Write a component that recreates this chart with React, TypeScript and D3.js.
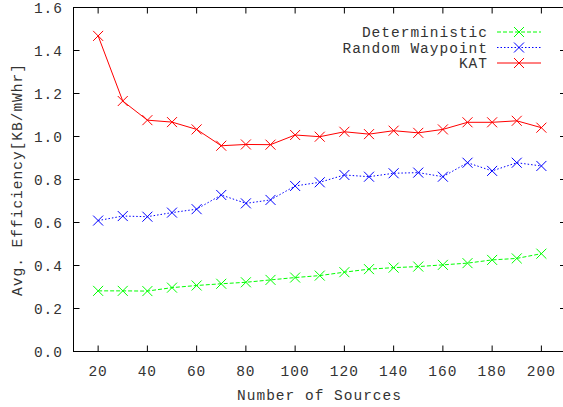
import React from 'react';
import * as d3 from 'd3';

// number of sources (x)
const sources = [20, 30, 40, 50, 60, 70, 80, 90, 100, 110, 120, 130, 140, 150, 160, 170, 180, 190, 200];

const deterministic = [0.282, 0.282, 0.281, 0.297, 0.307, 0.315, 0.322, 0.333, 0.344, 0.353, 0.369, 0.383, 0.39, 0.395, 0.403, 0.411, 0.426, 0.433, 0.455];
const randomWaypoint = [0.609, 0.63, 0.627, 0.646, 0.662, 0.728, 0.689, 0.705, 0.77, 0.787, 0.821, 0.813, 0.829, 0.832, 0.813, 0.878, 0.84, 0.878, 0.863];
const kat = [1.468, 1.165, 1.076, 1.067, 1.033, 0.957, 0.963, 0.962, 1.007, 0.999, 1.022, 1.011, 1.027, 1.017, 1.033, 1.066, 1.066, 1.073, 1.041];

const xTicks = [20, 40, 60, 80, 100, 120, 140, 160, 180, 200];
const yTicks = [0, 0.2, 0.4, 0.6, 0.8, 1.0, 1.2, 1.4, 1.6];

const seriesList = [
  { name: 'Deterministic', values: deterministic, color: '#00ff00', dash: '4,2' },
  { name: 'Random Waypoint', values: randomWaypoint, color: '#0000ff', dash: '1.5,2' },
  { name: 'KAT', values: kat, color: '#ff0000', dash: '' },
];

const W = 563;
const H = 407;
const margin = { top: 7.5, right: -3, bottom: 55.5, left: 73.5 };
const font = '"Liberation Mono", "DejaVu Sans Mono", monospace';
const fs = 14.5;
const ls = 1;

const App = () => {
  const x = d3.scaleLinear().domain([10, 210]).range([margin.left, W - margin.right]);
  const y = d3.scaleLinear().domain([0, 1.6]).range([H - margin.bottom, margin.top]);

  const line = d3.line<number>()
    .x((_, i) => x(sources[i]))
    .y(d => y(d));

  const cross = (cx: number, cy: number, color: string, key: string) => (
    <path key={key} d={`M${cx - 5},${cy - 5}L${cx + 5},${cy + 5}M${cx - 5},${cy + 5}L${cx + 5},${cy - 5}`}
      stroke={color} strokeWidth={1} fill="none" />
  );

  const tx = '#333';
  const legendX = 488;
  const legendY = [32, 47.5, 63];
  const txt = { fontFamily: font, fontSize: fs, fill: tx, letterSpacing: ls };

  return (
    <div style={{ position: 'fixed', left: 0, top: 0 }}>
      <svg width={W} height={H} style={{ display: 'block', background: '#fff' }}>
        {/* frame */}
        <rect x={x(10)} y={y(1.6)} width={x(210) - x(10)} height={y(0) - y(1.6)}
          fill="none" stroke="#000" strokeWidth={1} />

        {/* y ticks */}
        {yTicks.map(t => (
          <g key={'y' + t}>
            <line x1={x(10)} x2={x(10) + 6} y1={y(t)} y2={y(t)} stroke="#000" />
            <line x1={x(210)} x2={x(210) - 6} y1={y(t)} y2={y(t)} stroke="#000" />
            <text x={63} y={y(t)} dy="0.35em" textAnchor="end" {...txt}>
              {t.toFixed(1)}
            </text>
          </g>
        ))}

        {/* x ticks */}
        {xTicks.map(t => (
          <g key={'x' + t}>
            <line x1={x(t)} x2={x(t)} y1={y(0)} y2={y(0) - 6} stroke="#000" />
            <line x1={x(t)} x2={x(t)} y1={y(1.6)} y2={y(1.6) + 6} stroke="#000" />
            <text x={x(t)} y={371} dy="0.35em" textAnchor="middle" {...txt}>
              {t}
            </text>
          </g>
        ))}

        {/* axis titles */}
        <text x={319.5} y={395} dy="0.35em" textAnchor="middle" {...txt}>
          Number of Sources
        </text>
        <text transform={`translate(17,${(y(0) + y(1.6)) / 2}) rotate(-90)`} dy="0.35em" textAnchor="middle" {...txt}>
          Avg. Efficiency[KB/mWhr]
        </text>

        {/* series */}
        {seriesList.map(s => (
          <g key={s.name}>
            <path d={line(s.values) || ''} fill="none" stroke={s.color} strokeWidth={1}
              strokeDasharray={s.dash || undefined} />
            {s.values.map((v, i) => cross(x(sources[i]), y(v), s.color, s.name + i))}
          </g>
        ))}

        {/* legend */}
        {seriesList.map((s, i) => (
          <g key={'lg' + s.name}>
            <text x={legendX} y={legendY[i]} dy="0.35em" textAnchor="end" {...txt}>
              {s.name}
            </text>
            <line x1={497} x2={541} y1={legendY[i]} y2={legendY[i]} stroke={s.color}
              strokeDasharray={s.dash || undefined} />
            {cross(519, legendY[i], s.color, 'lc' + i)}
          </g>
        ))}
      </svg>
    </div>
  );
};

export default App;
